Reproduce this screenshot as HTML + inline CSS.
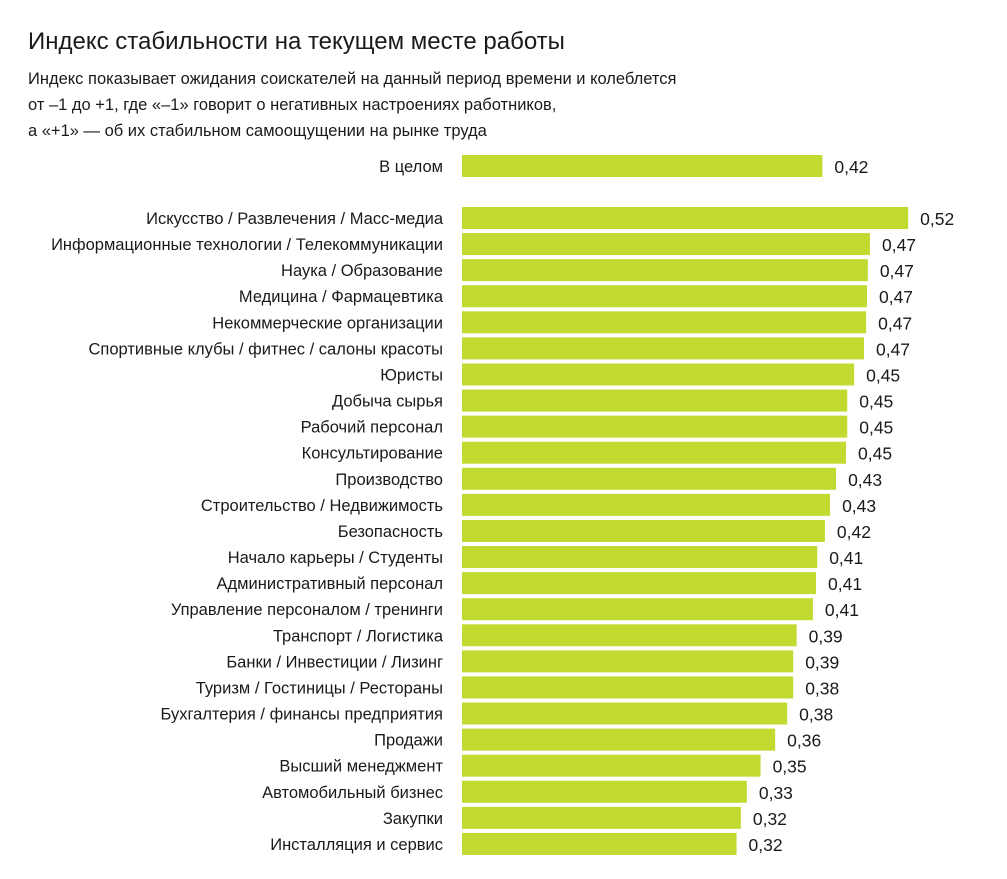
<!DOCTYPE html>
<html><head><meta charset="utf-8"><style>
body{margin:0;background:#fff;font-family:"Liberation Sans",sans-serif;color:#1a1a1a}
#wrap{position:relative;width:1007px;height:879px;overflow:hidden}
.t{position:absolute;white-space:nowrap}
</style></head><body>
<div id="wrap">
<div class="t" style="left:28px;top:28px;font-size:24px">Индекс стабильности на текущем месте работы</div>
<div class="t" style="left:28px;top:66px;font-size:16.5px;line-height:26px">Индекс показывает ожидания соискателей на данный период времени и колеблется<br>от –1 до +1, где «–1» говорит о негативных настроениях работников,<br>а «+1» — об их стабильном самоощущении на рынке труда</div>
<svg id="svg" width="1007" height="879" style="position:absolute;left:0;top:0"></svg>
</div>
<script>
const totalLabel = "В целом";
const totalValue = 0.42;
const totalText = "0,42";
const categories = ["Искусство / Развлечения / Масс-медиа","Информационные технологии / Телекоммуникации","Наука / Образование ","Медицина / Фармацевтика","Некоммерческие организации","Спортивные клубы / фитнес / салоны красоты","Юристы","Добыча сырья","Рабочий персонал","Консультирование","Производство","Строительство / Недвижимость","Безопасность","Начало карьеры / Студенты","Административный персонал","Управление персоналом / тренинги","Транспорт / Логистика","Банки / Инвестиции / Лизинг","Туризм / Гостиницы / Рестораны","Бухгалтерия / финансы предприятия","Продажи","Высший менеджмент","Автомобильный бизнес","Закупки","Инсталляция и сервис"];
const values = [0.52,0.4755,0.473,0.472,0.471,0.4685,0.457,0.449,0.449,0.4476,0.436,0.429,0.423,0.414,0.4126,0.409,0.390,0.386,0.386,0.379,0.365,0.348,0.332,0.325,0.320];
const valueLabels = ["0,52","0,47","0,47","0,47","0,47","0,47","0,45","0,45","0,45","0,45","0,43","0,43","0,42","0,41","0,41","0,41","0,39","0,39","0,38","0,38","0,36","0,35","0,33","0,32","0,32"];

const svg = document.getElementById('svg');
const NS = 'http://www.w3.org/2000/svg';
const x0 = 462, pxPerUnit = 858;
const xScale = v => x0 + v * pxPerUnit;
const rowY = i => 218 + i * 26.08;
const barH = 22;
function row(label, v, txt, cy, key){
  const t = document.createElementNS(NS,'text');
  
  
  t.setAttribute('x', 443); t.setAttribute('y', cy + 6);
  t.setAttribute('text-anchor','end'); t.setAttribute('font-size','16.5');
  t.setAttribute('font-family','Liberation Sans, sans-serif'); t.setAttribute('fill','#1a1a1a');
  t.textContent = label; svg.appendChild(t);
  const r = document.createElementNS(NS,'rect');
  
  
  r.setAttribute('x', x0); r.setAttribute('y', cy - barH/2);
  r.setAttribute('width', xScale(v) - x0); r.setAttribute('height', barH);
  r.setAttribute('fill','#c2d92f'); svg.appendChild(r);
  const vt = document.createElementNS(NS,'text');
  
  
  vt.setAttribute('x', xScale(v) + 12); vt.setAttribute('y', cy + 7);
  vt.setAttribute('font-size','17.5');
  vt.setAttribute('font-family','Liberation Sans, sans-serif'); vt.setAttribute('fill','#1a1a1a');
  vt.textContent = txt; svg.appendChild(vt);
}
row(totalLabel, totalValue, totalText, 166, 'total');
categories.forEach((c,i)=>row(c, values[i], valueLabels[i], rowY(i), i));
</script>
</body></html>
